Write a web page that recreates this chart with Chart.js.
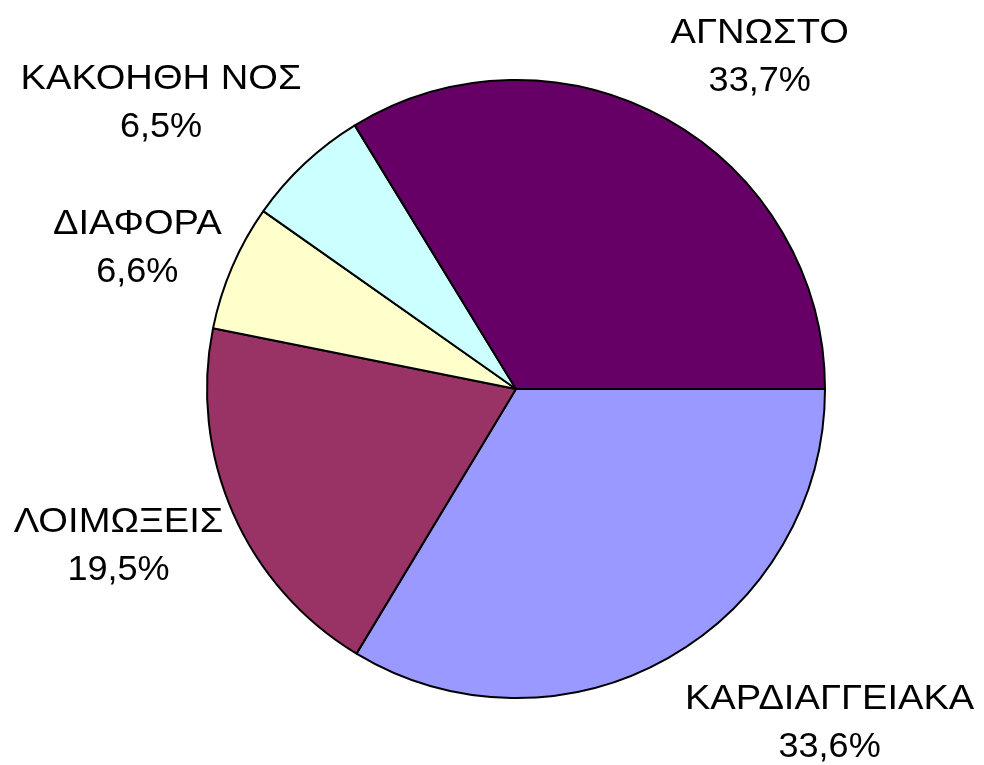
<!DOCTYPE html>
<html>
<head>
<meta charset="utf-8">
<script src="https://cdn.jsdelivr.net/npm/chart.js@4/dist/chart.umd.min.js"></script>
<style>
  html, body { margin: 0; padding: 0; background: #ffffff; }
  #wrap { width: 984px; height: 765px; position: relative; }
</style>
</head>
<body>
<div id="wrap"><canvas id="pie" width="984" height="765"></canvas></div>
<script>
// Causes, clockwise from 3 o'clock
const categories = ['ΚΑΡΔΙΑΓΓΕΙΑΚΑ', 'ΛΟΙΜΩΞΕΙΣ', 'ΔΙΑΦΟΡΑ', 'ΚΑΚΟΗΘΗ ΝΟΣ', 'ΑΓΝΩΣΤΟ'];
const shares = [33.6, 19.5, 6.6, 6.5, 33.7];
const sliceColors = ['#9999FF', '#993366', '#FFFFCC', '#CCFFFF', '#660066'];

// Label placement per slice: distance from centre (in radii) and angular nudge from the slice middle (degrees)
const labelPlacement = [
  { k: 1.449, delta: -15.0 },
  { k: 1.367, delta: 4.0 },
  { k: 1.324, delta: -1.0 },
  { k: 1.505, delta: -6.6 },
  { k: 1.369, delta: 5.9 }
];

const fmt = v => v.toFixed(1).replace('.', ',') + '%';

// Centred text with an optional horizontal widening
function wideText(ctx, text, x, y, sx) {
  ctx.save();
  ctx.translate(x, y);
  ctx.scale(sx, 1);
  ctx.fillText(text, 0, 0);
  ctx.restore();
}

const outsideLabels = {
  id: 'outsideLabels',
  afterDatasetsDraw(chart) {
    const ctx = chart.ctx;
    const meta = chart.getDatasetMeta(0);
    ctx.save();
    ctx.fillStyle = '#000000';
    ctx.font = '35px "Liberation Sans", Arial, sans-serif';
    ctx.textAlign = 'center';
    ctx.textBaseline = 'alphabetic';
    meta.data.forEach((arc, i) => {
      const p = arc.getProps(['x', 'y', 'startAngle', 'endAngle', 'outerRadius'], true);
      const mid = (p.startAngle + p.endAngle) / 2;
      const pl = labelPlacement[i];
      const a = mid + pl.delta * Math.PI / 180;
      const d = p.outerRadius * pl.k;
      const x = p.x + Math.cos(a) * d;
      const y = p.y + Math.sin(a) * d;
      wideText(ctx, categories[i], x, y, 1.09);
      wideText(ctx, fmt(shares[i]), x, y + 48, 1.03);
    });
    ctx.restore();
  }
};

new Chart(document.getElementById('pie'), {
  type: 'pie',
  data: {
    labels: categories,
    datasets: [{
      data: shares,
      backgroundColor: sliceColors,
      borderColor: '#000000',
      borderWidth: 2,
      borderAlign: 'center'
    }]
  },
  options: {
    responsive: false,
    animation: false,
    rotation: 90,
    layout: { padding: { top: 79, bottom: 66, left: 206, right: 158 } },
    plugins: {
      legend: { display: false },
      tooltip: { enabled: false }
    }
  },
  plugins: [outsideLabels]
});
</script>
</body>
</html>
